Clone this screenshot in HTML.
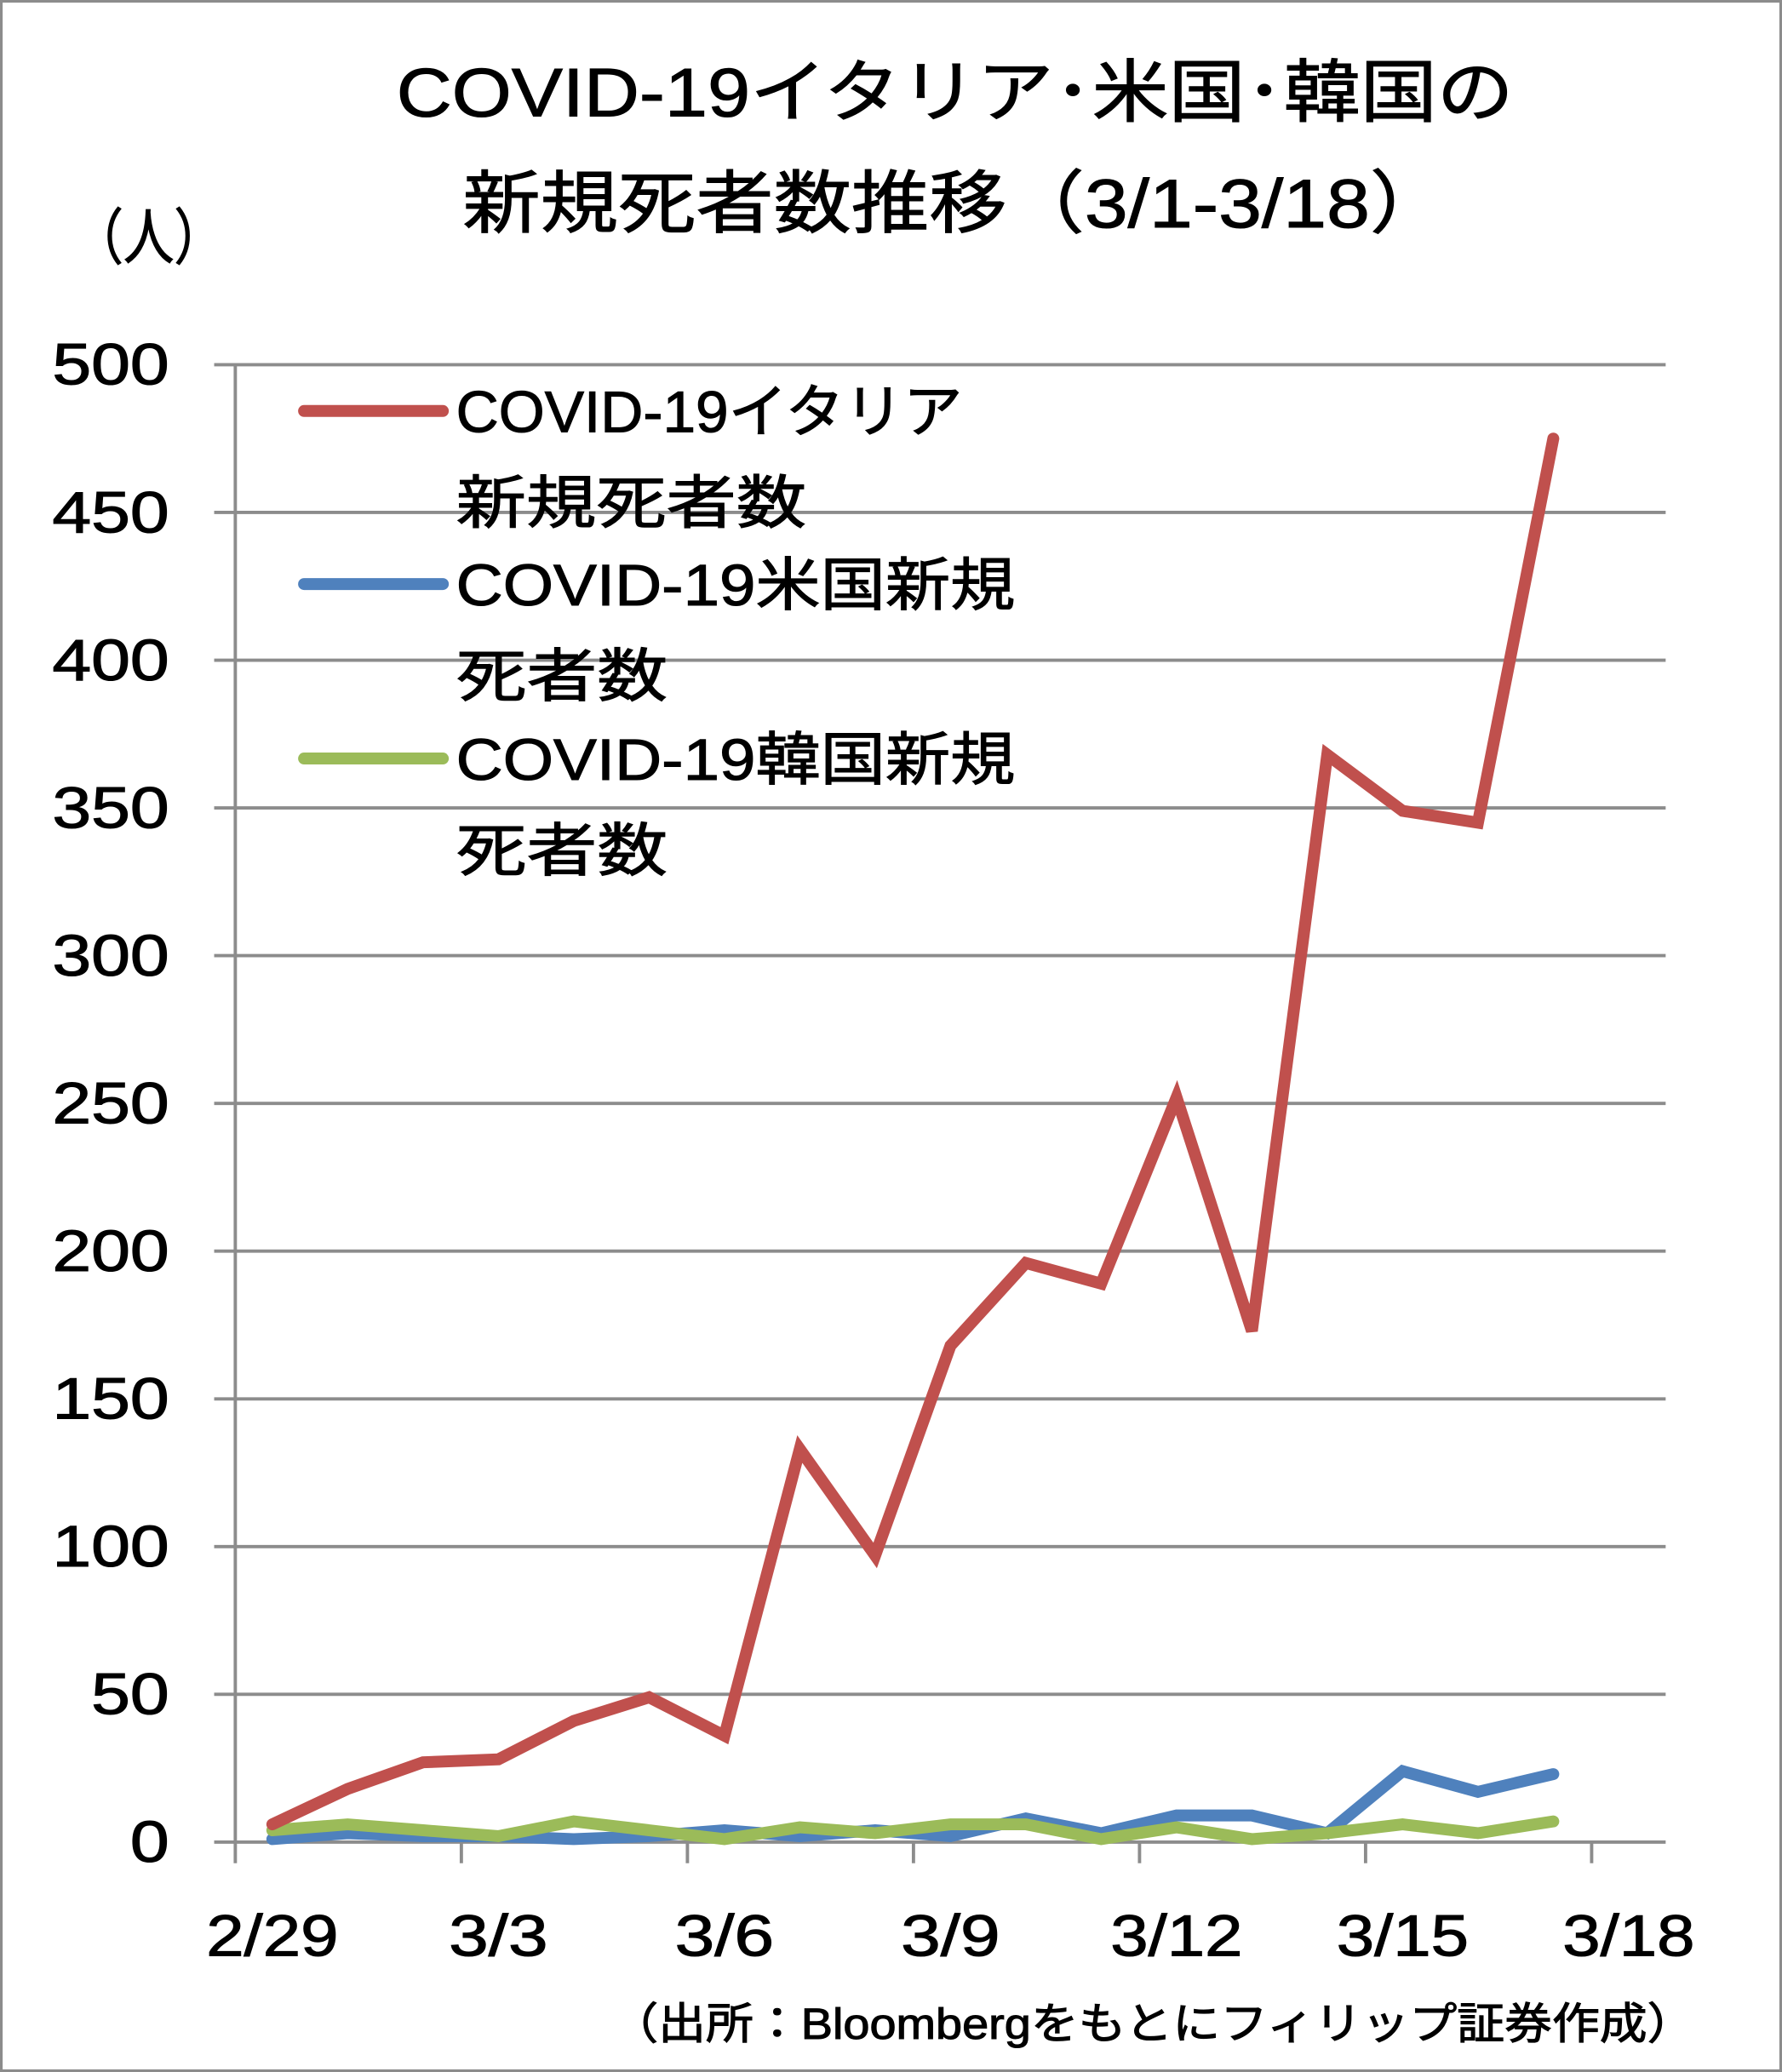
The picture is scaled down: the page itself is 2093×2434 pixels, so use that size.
<!DOCTYPE html>
<html><head><meta charset="utf-8"><style>
html,body{margin:0;padding:0;background:#fff}
svg{display:block}
text{font-family:"Liberation Sans","Noto Sans CJK JP",sans-serif;fill:#000;stroke:#000;stroke-width:0.7}
</style></head><body>
<svg id="chart" width="2093" height="2434" viewBox="0 0 1348 1568" preserveAspectRatio="none" xmlns="http://www.w3.org/2000/svg">
<rect x="1" y="1" width="1346" height="1566" fill="#fff" stroke="#8c8c8c" stroke-width="2"/>
<text x="300" y="88" font-size="52" textLength="845" lengthAdjust="spacingAndGlyphs">COVID-19イタリア･米国･韓国の</text>
<text x="350" y="172" font-size="52" textLength="745" lengthAdjust="spacingAndGlyphs">新規死者数推移（3/1-3/18）</text>
<text x="55" y="196" font-size="46" textLength="115" lengthAdjust="spacingAndGlyphs">（人）</text>
<g id="grid"></g>
<g id="axes"></g>
<g id="series"></g>
<g font-size="44">
<line x1="230" y1="311" x2="335" y2="311" stroke="#c0504d" stroke-width="9" stroke-linecap="round"/>
<text x="345" y="327" textLength="383" lengthAdjust="spacingAndGlyphs">COVID-19イタリア</text>
<text x="345" y="396" textLength="265" lengthAdjust="spacingAndGlyphs">新規死者数</text>
<line x1="230" y1="442" x2="335" y2="442" stroke="#4f81bd" stroke-width="9" stroke-linecap="round"/>
<text x="345" y="458" textLength="423" lengthAdjust="spacingAndGlyphs">COVID-19米国新規</text>
<text x="345" y="527" textLength="160" lengthAdjust="spacingAndGlyphs">死者数</text>
<line x1="230" y1="574" x2="335" y2="574" stroke="#9bbb59" stroke-width="9" stroke-linecap="round"/>
<text x="345" y="590" textLength="423" lengthAdjust="spacingAndGlyphs">COVID-19韓国新規</text>
<text x="345" y="659" textLength="160" lengthAdjust="spacingAndGlyphs">死者数</text>
</g>
<text x="462" y="1543" font-size="33" textLength="820" lengthAdjust="spacingAndGlyphs">（出所：Bloombergをもとにフィリップ証券作成）</text>
</svg>
<script>
const yTicks = [0,50,100,150,200,250,300,350,400,450,500];
const xLabels = ["2/29","3/3","3/6","3/9","3/12","3/15","3/18"];
const italy = [6,18,27,28,41,49,36,133,97,168,196,189,252,173,368,349,345,475];
const us = [1,3,2,2,1,2,4,2,4,2,8,3,9,9,3,24,17,23];
const korea = [4,6,4,2,7,4,1,5,3,6,6,1,5,1,3,6,3,7];

const NS="http://www.w3.org/2000/svg";
const X0=178, X1=1260, Y0=1394, Y1=276, DAY=57;
const yS=v=>Y0-(v/500)*(Y0-Y1);
const xS=i=>206+i*DAY;
function mk(tag,attrs,parent,txt){const e=document.createElementNS(NS,tag);for(const k in attrs)e.setAttribute(k,attrs[k]);if(txt!==undefined)e.textContent=txt;parent.appendChild(e);return e;}
const grid=document.getElementById('grid'), axes=document.getElementById('axes'), series=document.getElementById('series');
yTicks.forEach(v=>{
  const l=mk('line',{x1:X0-16,x2:X1,y1:yS(v),y2:yS(v),stroke:'#8c8c8c','stroke-width':2.5},grid);
  
  
  const s=String(v);
  const t=mk('text',{x:128,y:yS(v)+15,'font-size':44,'text-anchor':'end',textLength:s.length*29.5,lengthAdjust:'spacingAndGlyphs'},axes,s);
  
  
});
const ya=mk('line',{x1:X0,x2:X0,y1:Y1,y2:Y0,stroke:'#8c8c8c','stroke-width':2.5},axes);


xLabels.forEach((s,k)=>{
  const tx=X0+k*3*DAY;
  const tk=mk('line',{x1:tx,x2:tx,y1:Y0,y2:Y0+16,stroke:'#8c8c8c','stroke-width':2.5},axes);
  
  
  const t=mk('text',{x:206+k*3*DAY,y:1480,'font-size':44,'text-anchor':'middle',textLength:s.length*25,lengthAdjust:'spacingAndGlyphs'},axes,s);
  
  
});
function line(data,color,name){
  const p=mk('polyline',{points:data.map((v,i)=>xS(i)+','+yS(v)).join(' '),fill:'none',stroke:color,'stroke-width':9,'stroke-linejoin':'miter','stroke-linecap':'round'},series);
  
  
}
line(us,'#4f81bd','series-us');
line(korea,'#9bbb59','series-korea');
line(italy,'#c0504d','series-italy');
</script>
</body></html>
